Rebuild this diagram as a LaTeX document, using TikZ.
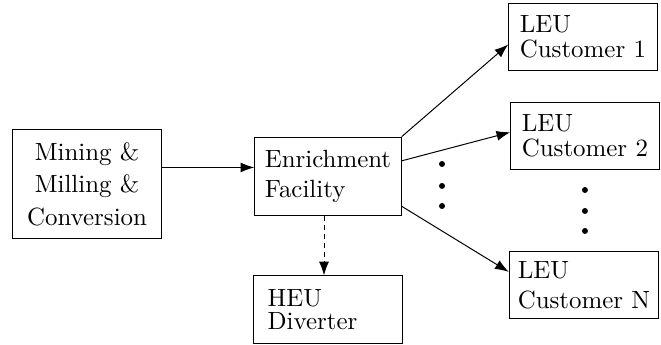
\documentclass[tikz,border=0pt]{standalone}
\usepackage{tikz}
\usetikzlibrary{arrows.meta}

\begin{document}
\begin{tikzpicture}[->,>={Latex[length=5.5pt,width=4pt]},node distance=3.4cm,
  stage/.style={draw,rectangle,align=left,minimum width=59.6pt,minimum height=27pt,inner sep=3.3pt}]
  \useasboundingbox (0,0) rectangle (9.327,-4.868);
  \node[stage,align=center,minimum height=43.6pt] (M) at (1.228,-2.596) {Mining \&\\[1pt]Milling \&\\[1pt]Conversion};
  \node[stage,minimum width=58.8pt,minimum height=31.6pt] (E) [right of=M,yshift=3pt] {Enrichment\\Facility};
  \node[stage,text width=48.4pt,inner xsep=5.6pt] (H) [below of=E,node distance=1.877cm] {HEU\\[-3pt]Diverter};
  \node[stage] (L2) [right of=E,node distance=3.626cm,yshift=16.2pt] {LEU\\[-2pt]Customer 2};
  \node[stage] (L1) [above of=L2,node distance=1.404cm,xshift=-0.8pt] {LEU\\[-2pt]Customer 1};
  \node[stage,minimum width=60pt] (LN) [below of=L2,node distance=2.102cm,xshift=-0.4pt] {LEU\\Customer N};
  \path (M.east |- E.173) edge (E.173);
  \path (E.north east) edge (L1.186);
  \path (E.12) edge (L2.177);
  \path (E.338) edge (LN.170);
  \draw[dash pattern=on 2pt off 1.6pt] ([xshift=-1.6pt]E.south) -- ([xshift=-1.6pt]E.south |- H.north);
  \foreach \y in {-2.314,-2.624,-2.907} \fill[-] (6.237,\y) circle (1.2pt);
  \foreach \y in {-2.681,-2.977,-3.259} \fill[-] (8.254,\y) circle (1.2pt);
\end{tikzpicture}
\end{document}
